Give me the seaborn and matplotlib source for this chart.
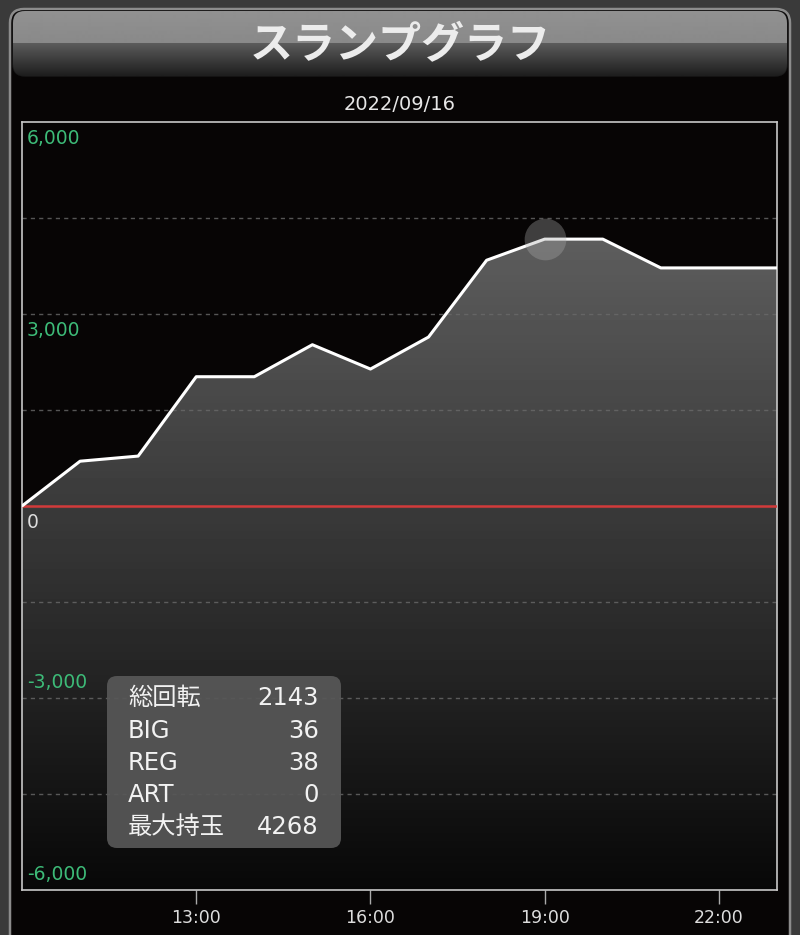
import numpy as np
import matplotlib
matplotlib.use('Agg')
import matplotlib.pyplot as plt
import seaborn as sns
from matplotlib.patches import FancyBboxPatch

# ---- data ----
hours = [10, 11, 12, 13, 14, 15, 16, 17, 18, 19, 20, 21, 23]
diff = [0, 700, 780, 2020, 2020, 2520, 2140, 2640, 3840, 4170, 4170, 3720, 3720]
ytick_values = [6000, 3000, 0, -3000, -6000]
ytick_labels = ['6,000', '3,000', '0', '-3,000', '-6,000']
grid_values = [4500, 3000, 1500, -1500, -3000, -4500]
xtick_hours = [13, 16, 19, 22]
xtick_labels = ['13:00', '16:00', '19:00', '22:00']
stat_names = ['総回転', 'BIG', 'REG', 'ART', '最大持玉']
stat_values = ['2143', '36', '38', '0', '4268']
title = 'スランプグラフ'
date_label = '2022/09/16'
peak_hour = [19]
peak_value = [4170]

sns.set_theme(style='dark')
LATIN = ['DejaVu Sans', 'Noto Sans CJK JP']
plt.rcParams['font.family'] = LATIN

W, H = 800, 935
fig = plt.figure(figsize=(8, 9.35), dpi=100, facecolor='#3a3a3a')

# ---- background decorations ----
bg = fig.add_axes([0, 0, 1, 1], zorder=0)
bg.axis('off')
panel = FancyBboxPatch((10, 9), 780, 960, boxstyle='round,pad=0,rounding_size=14',
                       fc='#070505', ec='#8c8c8c', lw=1.8)
bg.add_patch(panel)
tb = FancyBboxPatch((13, 11), 774, 65, boxstyle='round,pad=0,rounding_size=12',
                    fc='none', ec='#1a1a1a', lw=1)
bg.add_patch(tb)
grad = np.concatenate([np.linspace(0.57, 0.54, 32), np.linspace(0.36, 0.12, 33)])
img = bg.imshow(grad[:, None], cmap='gray', vmin=0, vmax=1,
                extent=[13, 787, 76, 11], aspect='auto', zorder=1, interpolation='bilinear')
img.set_clip_path(tb)
bg.set_xlim(0, W)
bg.set_ylim(H, 0)
bg.text(400, 45, title, ha='center', va='center', fontsize=31, fontweight='semibold',
        color='#ececec', zorder=3, family=['Noto Sans CJK JP'])
bg.text(400, 104, date_label, ha='center', va='center', fontsize=14, color='#e6e6e6')

# ---- main chart ----
ax = fig.add_axes([22 / W, 1 - 890 / H, 755 / W, 768 / H], zorder=1)
ax.set_facecolor('#070505')
ax.grid(False)

poly = ax.fill_between(hours, diff, -6000, color='none', lw=0)
gy = np.linspace(0.37, 0.03, 200)
fill_img = ax.imshow(gy[:, None], cmap='gray', vmin=0, vmax=1,
                     extent=[10, 23, -6000, 4300], aspect='auto', zorder=1,
                     interpolation='bilinear')
fill_img.set_clip_path(poly.get_paths()[0], transform=ax.transData)

for g in grid_values:
    ax.axhline(g, color='#6a6a6a', lw=1, ls=(0, (3, 3)), zorder=2, alpha=0.8)
ax.axhline(0, color='#d23a3a', lw=1.8, zorder=3)

sns.lineplot(x=hours, y=diff, color='white', lw=2.2, ax=ax, zorder=4)
ax.plot(peak_hour, peak_value, 'o', ms=30, color='#aaaaaa', alpha=0.35, mec='none', zorder=5)

ax.set_xlim(10, 23)
ax.set_ylim(-6000, 6000)
ax.set_yticks([])
ax.set_xticks(xtick_hours, xtick_labels)
ax.tick_params(axis='x', bottom=True, direction='out', length=10, width=1,
               color='#aaaaaa', labelcolor='#dddddd', labelsize=12.5, pad=4)
ax.set_xlabel('')
ax.set_ylabel('')
for s in ax.spines.values():
    s.set_visible(True)
    s.set_color('#c8c8c8')
    s.set_linewidth(1.2)

for v, lab in zip(ytick_values, ytick_labels):
    off = -16 if v >= 0 else 16
    col = '#dddddd' if v == 0 else '#3dbb78'
    ax.annotate(lab, xy=(0, v), xycoords=('axes fraction', 'data'),
                xytext=(5, off), textcoords='offset pixels', va='center', ha='left',
                fontsize=13.5, color=col, zorder=6)

# ---- info box overlay ----
ov = fig.add_axes([0, 0, 1, 1], zorder=5)
ov.axis('off')
ov.set_xlim(0, W)
ov.set_ylim(H, 0)
box = FancyBboxPatch((107, 676), 234, 172, boxstyle='round,pad=0,rounding_size=10',
                     fc='#575757', ec='none', alpha=0.93)
ov.add_patch(box)
row_y = [698, 731, 763, 795, 827]
for yy, n, v in zip(row_y, stat_names, stat_values):
    ov.text(128, yy, n, ha='left', va='center', fontsize=17.5, color='#f2f2f2')
    ov.text(319, yy, v, ha='right', va='center', fontsize=17.5, color='#f2f2f2')

fig.savefig('out.png', dpi=100, facecolor=fig.get_facecolor())
